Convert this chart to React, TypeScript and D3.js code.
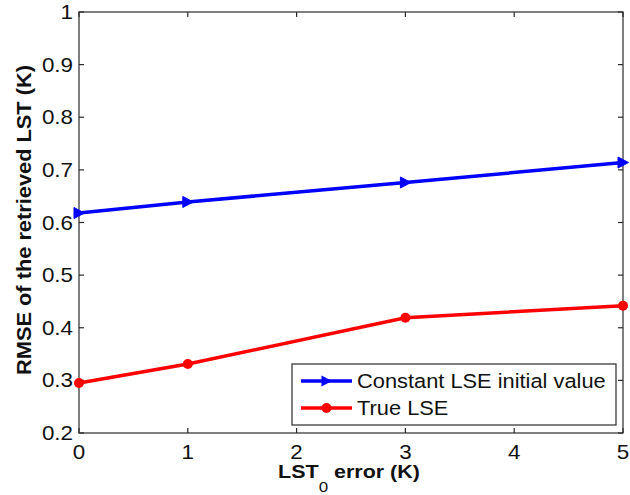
import React from "react";
import * as d3 from "d3";

const xValues = [0, 1, 3, 5];
const constantLSE = [0.618, 0.639, 0.676, 0.714];
const trueLSE = [0.295, 0.331, 0.419, 0.442];
const xTicks = [0, 1, 2, 3, 4, 5];
const yTicks = [0.2, 0.3, 0.4, 0.5, 0.6, 0.7, 0.8, 0.9, 1];
const seriesNames = ["Constant LSE initial value", "True LSE"];

const W = 630;
const H = 495;
const left = 79;
const right = 623;
const top = 12;
const bottom = 433;
const FONT = "Arial, 'Liberation Sans', Helvetica, sans-serif";
const SX = 1.12;

export default function App() {
  const x = d3.scaleLinear().domain([0, 5]).range([left, right]);
  const y = d3.scaleLinear().domain([0.2, 1]).range([bottom, top]);
  const line = d3
    .line<number>()
    .x((_, i) => x(xValues[i]))
    .y((d) => y(d));
  const axisColor = "#2a2a2a";
  const tri = (cx: number, cy: number) =>
    `M${cx - 5},${cy - 5.5} L${cx + 5.5},${cy} L${cx - 5},${cy + 5.5} Z`;
  const fmt = (v: number) => (v === 1 ? "1" : d3.format(".1f")(v));

  const legL = 292, legT = 364, legR = 616, legB = 425;
  const rows = [381, 408];

  return (
    <svg
      width={W}
      height={H}
      style={{ position: "absolute", left: 0, top: 0, display: "block", background: "#fff" }}
      fontFamily={FONT}
    >
      <rect x={0} y={0} width={W} height={H} fill="#fff" />
      {/* frame */}
      <rect x={left} y={top} width={right - left} height={bottom - top} fill="none" stroke={axisColor} strokeWidth={1.2} />
      {/* x ticks */}
      {xTicks.map((t) => (
        <g key={"xt" + t}>
          <line x1={x(t)} x2={x(t)} y1={bottom} y2={bottom - 5} stroke={axisColor} strokeWidth={1.2} />
          <line x1={x(t)} x2={x(t)} y1={top} y2={top + 5} stroke={axisColor} strokeWidth={1.2} />
          <text
            transform={`translate(${x(t)},${bottom + 26}) scale(${SX},1)`}
            textAnchor="middle"
            fontSize={20}
            fill="#111"
          >
            {t}
          </text>
        </g>
      ))}
      {/* y ticks */}
      {yTicks.map((t) => (
        <g key={"yt" + t}>
          <line x1={left} x2={left + 5} y1={y(t)} y2={y(t)} stroke={axisColor} strokeWidth={1.2} />
          <line x1={right} x2={right - 5} y1={y(t)} y2={y(t)} stroke={axisColor} strokeWidth={1.2} />
          <text
            transform={`translate(${left - 6},${y(t) + 7}) scale(${SX},1)`}
            textAnchor="end"
            fontSize={20}
            fill="#111"
          >
            {fmt(t)}
          </text>
        </g>
      ))}
      {/* lines */}
      <path d={line(constantLSE) || ""} fill="none" stroke="#0000ff" strokeWidth={3.5} />
      <path d={line(trueLSE) || ""} fill="none" stroke="#ff0000" strokeWidth={3.5} />
      {constantLSE.map((v, i) => (
        <path key={"b" + i} d={tri(x(xValues[i]), y(v))} fill="#0000ff" stroke="#0000ff" strokeWidth={1} />
      ))}
      {trueLSE.map((v, i) => (
        <circle key={"r" + i} cx={x(xValues[i])} cy={y(v)} r={5} fill="#ff0000" />
      ))}
      {/* legend */}
      <rect x={legL} y={legT} width={legR - legL} height={legB - legT} fill="#fff" stroke={axisColor} strokeWidth={1.2} />
      <line x1={301} x2={352} y1={rows[0]} y2={rows[0]} stroke="#0000ff" strokeWidth={3.5} />
      <path d={tri(326.5, rows[0])} fill="#0000ff" />
      <line x1={301} x2={352} y1={rows[1]} y2={rows[1]} stroke="#ff0000" strokeWidth={3.5} />
      <circle cx={326.5} cy={rows[1]} r={5} fill="#ff0000" />
      {seriesNames.map((n, i) => (
        <text
          key={n}
          transform={`translate(357,${rows[i] + 7}) scale(${SX},1)`}
          fontSize={19.5}
          fill="#111"
        >
          {n}
        </text>
      ))}
      {/* x label */}
      <text
        transform={`translate(${(276 + 422) / 2},478) scale(1.13,1)`}
        textAnchor="middle"
        fontSize={19}
        fontWeight="bold"
        fill="#111"
      >
        LST
        <tspan fontSize={15} dy={14} fontWeight="normal">0</tspan>
        <tspan dy={-14}> error (K)</tspan>
      </text>
      {/* y label */}
      <text
        transform={`translate(31,220) rotate(-90)`}
        textAnchor="middle"
        fontSize={20}
        fontWeight="bold"
        fill="#111"
        textLength={310}
        lengthAdjust="spacingAndGlyphs"
      >
        RMSE of the retrieved LST (K)
      </text>
    </svg>
  );
}
